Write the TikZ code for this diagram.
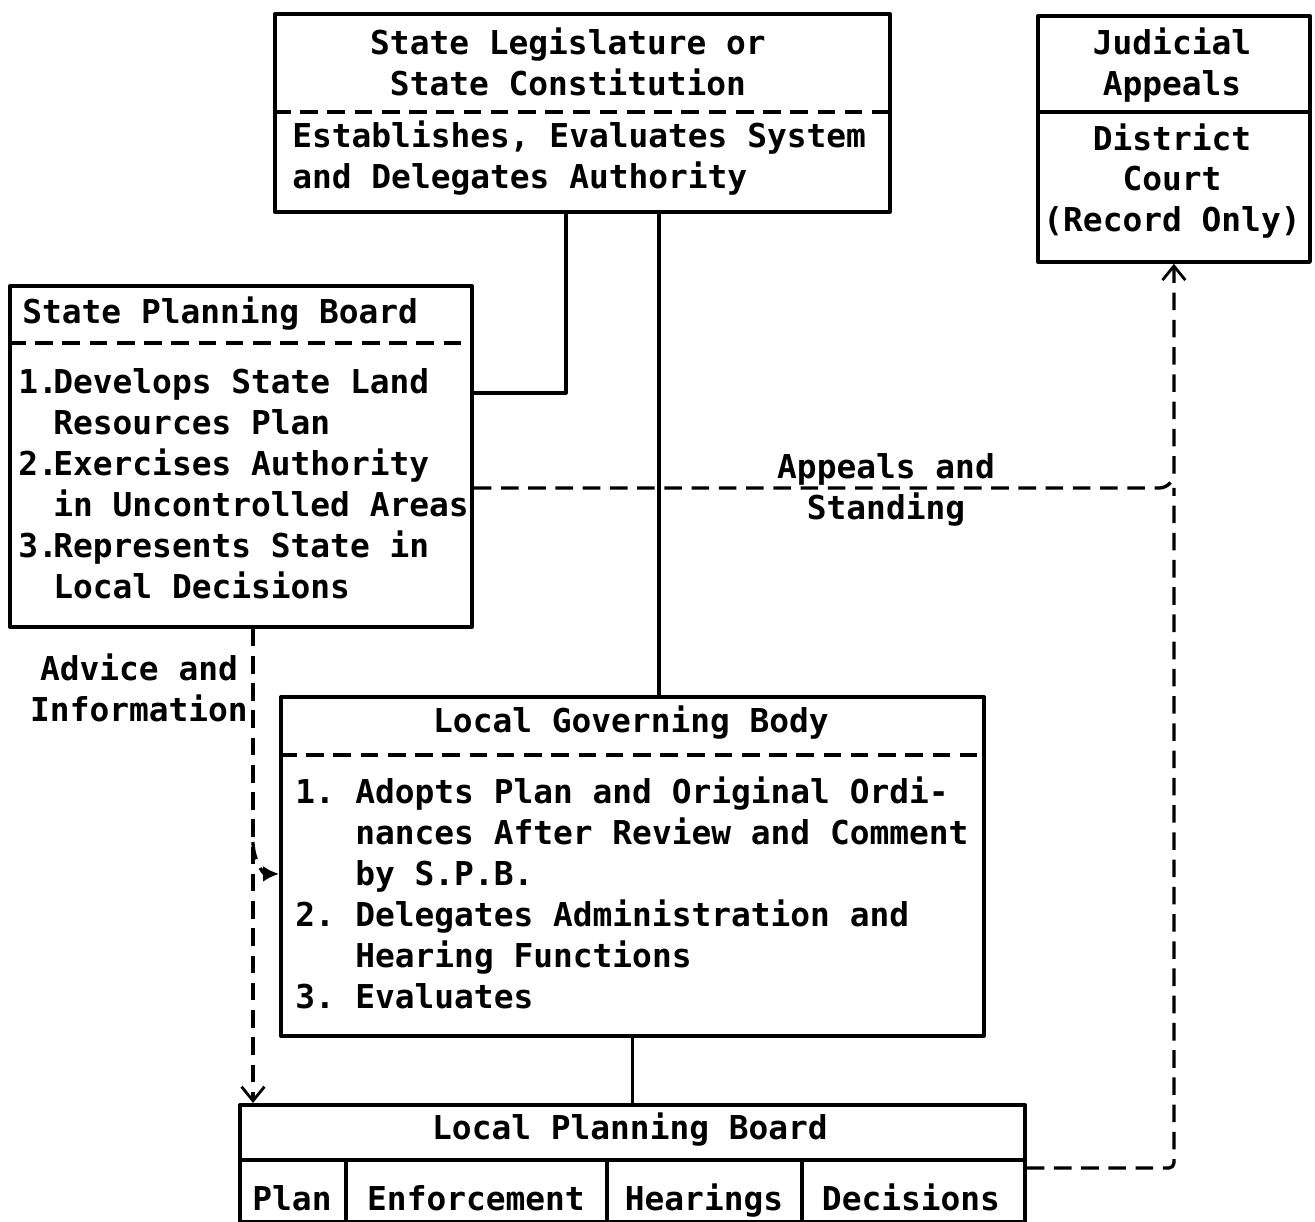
\documentclass[tikz,border=0pt]{standalone}
\usepackage{fontspec}
\newfontfamily\typew{DejaVu Sans Mono}
\usetikzlibrary{arrows.meta}

\tikzset{
  box/.style={draw, line width=2.2pt, anchor=north west, inner sep=0pt},
  txt/.style={font=\typew\bfseries\fontsize{18.7}{23.3}\selectfont, inner sep=0pt},
  cell/.style={txt, anchor=base},
  conn/.style={line width=1.8pt},
  dashln/.style={line width=1.9pt, dash pattern=on 10pt off 5.5pt},
  >={Straight Barb[length=8pt,width=13pt,line width=1.6pt]}
}

\begin{document}
\begin{tikzpicture}[line join=round,x=0.02cm,y=-0.02cm]
  \useasboundingbox (0,0) rectangle (1315,1222);

  % boxes
  \node[box, minimum width=12.3cm, minimum height=3.96cm] (leg) at (273,12) {};
  \node[box, minimum width=5.44cm, minimum height=4.92cm] (jud) at (1036,14) {};
  \node[box, minimum width=9.24cm, minimum height=6.82cm] (spb) at (8,284) {};
  \node[box, minimum width=14.06cm, minimum height=6.78cm] (lgb) at (279,695) {};
  \node[box, minimum width=15.7cm, minimum height=2.34cm] (lpb) at (238,1103) {};

  % dividers
  \coordinate (legdiv) at (0,112);
  \coordinate (juddiv) at (0,112);
  \coordinate (spbdiv) at (0,343);
  \coordinate (lgbdiv) at (0,755);
  \coordinate (lpbdiv) at (0,1160);
  \draw[dashln] (leg.west |- legdiv) -- (leg.east |- legdiv);
  \draw[line width=2.2pt] (jud.west |- juddiv) -- (jud.east |- juddiv);
  \draw[dashln] (spb.west |- spbdiv) -- (spb.east |- spbdiv);
  \draw[dashln] (lgb.west |- lgbdiv) -- (lgb.east |- lgbdiv);
  \draw[line width=2.2pt] (lpb.west |- lpbdiv) -- (lpb.east |- lpbdiv);
  \foreach \x in {346,607,802}
    \draw[line width=2.2pt] (\x,1160) -- (\x,1220);

  % texts
  \node[txt, align=center] (legtop) at (568,62) {State Legislature or\\State Constitution};
  \node[txt, align=left, anchor=west] (legbot) at (292,158) {Establishes, Evaluates System\\and Delegates Authority};
  \node[txt, align=center] (judtop) at (1172,65) {Judicial\\Appeals};
  \node[txt, align=center] (judbot) at (1172,181) {District\\Court\\(Record Only)};
  \node[txt, anchor=west] (spbtop) at (22,314) {State Planning Board};
  \node[txt, align=left, anchor=west] (spbbot) at (18,484) {%
    \makebox[0.7cm][l]{1.}Develops State Land\\
    \hspace*{0.7cm}Resources Plan\\
    \makebox[0.7cm][l]{2.}Exercises Authority\\
    \hspace*{0.7cm}in Uncontrolled Areas\\
    \makebox[0.7cm][l]{3.}Represents State in\\
    \hspace*{0.7cm}Local Decisions};
  \node[txt] (lgbtop) at (631,723) {Local Governing Body};
  \node[txt, align=left, anchor=west] (lgbbot) at (295,893) {%
    \makebox[1.2cm][l]{1.}Adopts Plan and Original Ordi-\\
    \hspace*{1.2cm}nances After Review and Comment\\
    \hspace*{1.2cm}by S.P.B.\\
    \makebox[1.2cm][l]{2.}Delegates Administration and\\
    \hspace*{1.2cm}Hearing Functions\\
    \makebox[1.2cm][l]{3.}Evaluates};
  \node[txt] (lpbtop) at (630,1130) {Local Planning Board};
  \node[cell] (plan) at (292,1210) {Plan};
  \node[cell] (enf) at (476,1210) {Enforcement};
  \node[cell] (hear) at (704,1210) {Hearings};
  \node[cell] (dec) at (911,1210) {Decisions};

  % solid connectors
  \coordinate (c1) at (566,393);
  \coordinate (c2) at (659,0);
  \draw[conn] (leg.south -| c1) |- (spb.east |- c1);
  \draw[conn] (leg.south -| c2) -- (lgb.north -| c2);
  \draw[conn] (lgb.south) -- (lgb.south |- lpb.north);

  % advice and information
  \coordinate (fork) at (253,842);
  \draw[dashln,->] (spb.south -| fork) -- (lpb.north -| fork);
  \draw[dashln,-{Latex[length=9pt,width=9pt]}] (fork) to[out=-90,in=180] ([yshift=-0.15cm]lgb.west);
  \node[txt, align=center] (advice) at (139,688) {Advice and\\Information};

  % appeals and standing
  \coordinate (apl) at (0,488);
  \coordinate (c3) at (0,1168);
  \draw[dashln,->,rounded corners=0.3cm] (spb.east |- apl) -| (jud.south);
  \draw[dashln,rounded corners=0.1cm] (lpb.east |- c3) -| (jud.south |- apl);
  \node[txt, align=center] (appeals) at (886,490) {Appeals and\\Standing};
\end{tikzpicture}
\end{document}
